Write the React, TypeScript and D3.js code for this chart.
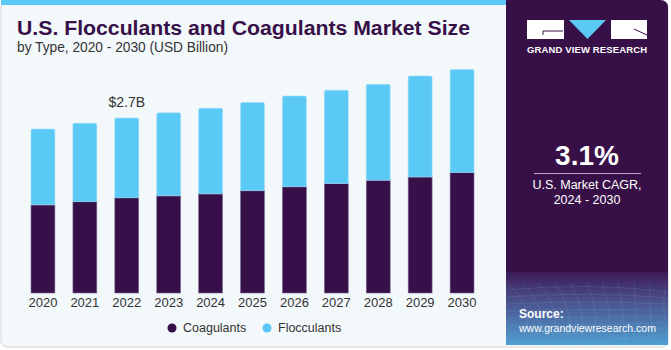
import React from "react";
import * as d3 from "d3";

const years = ["2020","2021","2022","2023","2024","2025","2026","2027","2028","2029","2030"];
const coagulants = [1.36,1.41,1.47,1.50,1.53,1.58,1.64,1.69,1.74,1.79,1.86];
const flocculants = [1.17,1.21,1.23,1.28,1.32,1.36,1.40,1.44,1.48,1.56,1.59];
const seriesNames = ["Coagulants","Flocculants"];
const seriesColors = ["#371049","#5bc9f6"];
const annotation = { year: "2022", label: "$2.7B" };

const W = 671, H = 350;
const FONT = "'Liberation Sans', Arial, sans-serif";

export default function App() {
  const rows = years.map((y, i) => ({ year: y, Coagulants: coagulants[i], Flocculants: flocculants[i] }));
  const stack = d3.stack<any>().keys(seriesNames)(rows);
  const x = d3.scaleBand().domain(years).range([22, 483]).paddingInner(0.43).paddingOuter(0.215);
  const y = d3.scaleLinear().domain([0, 3.6]).range([293, 293 - 3.6 * 64.8]);
  const bw = x.bandwidth();

  const topRounded = (x0: number, y0: number, w: number, h: number, r: number) =>
    `M${x0},${y0 + h}V${y0 + r}Q${x0},${y0} ${x0 + r},${y0}H${x0 + w - r}Q${x0 + w},${y0} ${x0 + w},${y0 + r}V${y0 + h}Z`;

  const annIdx = years.indexOf(annotation.year);
  const annTotal = coagulants[annIdx] + flocculants[annIdx];

  return (
    <div>
      <style>{`body{margin:0}`}</style>
      <svg width={W} height={H} style={{ display: "block" }} fontFamily={FONT}>
        <defs>
          <linearGradient id="srcGrad" x1="0" y1="0" x2="0" y2="1">
            <stop offset="0" stopColor="#3b1a55" />
            <stop offset="0.35" stopColor="#4a4a86" />
            <stop offset="1" stopColor="#4f9fd2" />
          </linearGradient>
          <clipPath id="panelClip">
            <path d={`M506,0H660Q668,0 668,8V345H506Z`} />
          </clipPath>
        </defs>
        <rect x={0} y={0} width={W} height={H} fill="#ffffff" />
        {/* card */}
        <rect x={1} y={1} width={667} height={346} rx={6} fill="#f3f8fb" stroke="#cfd3d6" strokeWidth={1} />
        <rect x={1} y={0} width={506} height={5} fill="#5bc9f6" />
        {/* right panel */}
        <g clipPath="url(#panelClip)">
          <rect x={506} y={0} width={165} height={345} fill="#381048" />
          <rect x={506} y={272} width={165} height={73} fill="url(#srcGrad)" />
          {d3.range(0, 12).map(i => (
            <path key={"g" + i} d={`M${506 + i * 16},${283} Q${540 + i * 12},${310} ${520 + i * 15},${345}`} stroke="#8fb8e0" strokeOpacity={0.25} fill="none" strokeWidth={0.6} />
          ))}
          {d3.range(0, 8).map(i => (
            <path key={"h" + i} d={`M506,${290 + i * 7} Q590,${282 + i * 9} 668,${292 + i * 6}`} stroke="#8fb8e0" strokeOpacity={0.25} fill="none" strokeWidth={0.6} />
          ))}
        </g>
        {/* logo */}
        <rect x={527} y={20} width={37} height={19} fill="#ffffff" />
        <path d="M543,31H563M543,31V35" stroke="#381048" strokeWidth={1} fill="none" />
        <path d="M569,20H606L587.5,39Z" fill="#5bc9f6" />
        <rect x={611} y={20} width={36} height={19} fill="#ffffff" />
        <path d="M634,29L647,35" stroke="#381048" strokeWidth={1} fill="none" />
        <text x={587} y={53} textAnchor="middle" fill="#ffffff" fontSize={9.5} fontWeight="bold" textLength={120} lengthAdjust="spacing">GRAND VIEW RESEARCH</text>
        {/* CAGR */}
        <text x={587} y={165} textAnchor="middle" fill="#ffffff" fontSize={28} fontWeight="bold">3.1%</text>
        <line x1={534} x2={641} y1={173.5} y2={173.5} stroke="#b9a9c9" strokeWidth={1.2} />
        <text x={587} y={189} textAnchor="middle" fill="#ffffff" fontSize={12.5}>U.S. Market CAGR,</text>
        <text x={587} y={204} textAnchor="middle" fill="#ffffff" fontSize={12.5}>2024 - 2030</text>
        {/* source */}
        <text x={519} y={318} fill="#ffffff" fontSize={12} fontWeight="bold">Source:</text>
        <text x={519} y={332} fill="#ffffff" fontSize={11.5} textLength={137} lengthAdjust="spacingAndGlyphs">www.grandviewresearch.com</text>
        {/* title */}
        <text x={17} y={35} fill="#371049" fontSize={19.5} fontWeight="bold" textLength={453} lengthAdjust="spacingAndGlyphs">U.S. Flocculants and Coagulants Market Size</text>
        <text x={17} y={52} fill="#333333" fontSize={14} textLength={211} lengthAdjust="spacingAndGlyphs">by Type, 2020 - 2030 (USD Billion)</text>
        {/* bars */}
        {stack.map((s, si) => (
          <g key={s.key}>
            {s.map((d: any, i: number) => {
              const x0 = x(d.data.year)!;
              const y0 = y(d[1]);
              const h = y(d[0]) - y(d[1]);
              return si === stack.length - 1 ? (
                <path key={i} d={topRounded(x0, y0, bw, h, 1.5)} fill={seriesColors[si]} stroke="#9ddcf7" strokeWidth={0.6} />
              ) : (
                <rect key={i} x={x0} y={y0} width={bw} height={h} fill={seriesColors[si]} stroke="#7a6a92" strokeWidth={0.6} />
              );
            })}
          </g>
        ))}
        <text x={x(annotation.year)! + bw / 2} y={y(annTotal) - 11} textAnchor="middle" fill="#333333" fontSize={14}>{annotation.label}</text>
        {years.map(yr => (
          <text key={yr} x={x(yr)! + bw / 2} y={307} textAnchor="middle" fill="#333333" fontSize={13}>{yr}</text>
        ))}
        {/* legend */}
        <circle cx={172} cy={328} r={4.5} fill={seriesColors[0]} />
        <text x={183} y={332} fill="#333333" fontSize={12.5}>{seriesNames[0]}</text>
        <circle cx={267} cy={328} r={4.5} fill={seriesColors[1]} />
        <text x={278} y={332} fill="#333333" fontSize={12.5}>{seriesNames[1]}</text>
      </svg>
    </div>
  );
}
